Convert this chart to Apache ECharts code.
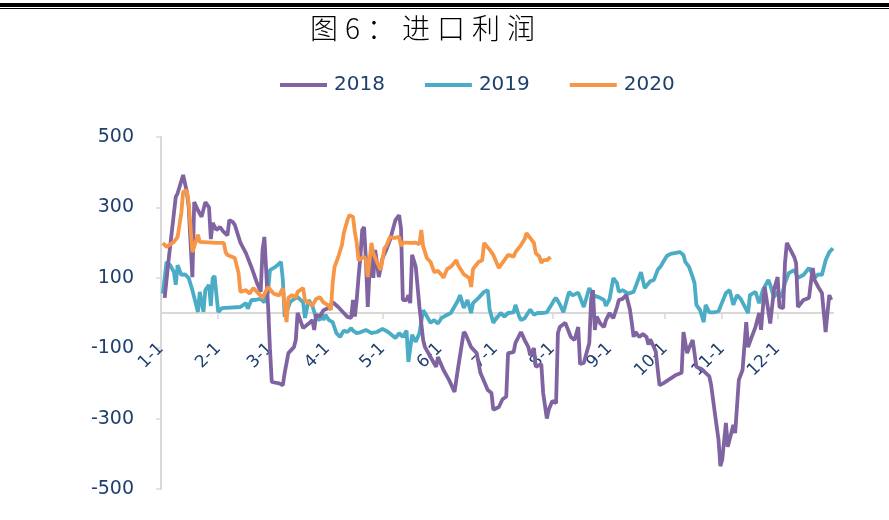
<!DOCTYPE html>
<html>
<head>
<meta charset="utf-8">
<script src="https://cdn.jsdelivr.net/npm/echarts@6/dist/echarts.min.js"></script>
<style>
html,body{margin:0;padding:0;background:#fff;}
#wrap{position:relative;width:889px;height:520px;}
#main{width:889px;height:520px;}
#title{position:absolute;left:0;top:11px;width:852px;text-align:center;font-family:'Noto Sans CJK SC',sans-serif;font-size:28px;font-weight:300;letter-spacing:7px;color:#000;line-height:32px;}
</style>
</head>
<body>
<div id="wrap">
<div id="main"></div>
<div id="title"></div>
</div>
<script>
// ---- data ----
const titleText = '图6：进口利润';
const seriesNames = ['2018', '2019', '2020'];
const monthLengths = [31, 28, 31, 30, 31, 30, 31, 31, 30, 31, 30, 31];
const yTicks = [-500, -300, -100, 100, 300, 500];

const days2018 = [2,4,8,9,12,14,15,17,18,20,22,24,26,27,28,30,32,34,36,37,39,40,43,46,49,52,54,55,56,58,59,60,64,66,67,69,72,73,74,77,80,82,83,84,86,88,91,92,93,96,99,101,103,104,105,106,107,108,109,110,111,112,113,114,115,116,118,120,122,124,127,129,130,131,133,134,135,136,138,140,142,143,146,149,150,153,156,159,161,164,165,168,171,173,177,179,180,183,185,187,188,191,192,195,197,199,200,202,203,206,207,209,210,212,214,215,216,219,222,224,226,227,229,232,233,234,235,236,238,240,241,243,245,247,248,250,252,253,254,255,256,257,259,261,263,264,265,267,268,270,272,279,282,283,285,286,288,290,293,297,298,300,302,303,304,306,307,310,311,313,315,317,318,320,322,324,325,327,330,332,334,335,337,338,339,341,343,344,345,348,351,353,354,356,358,360,361,362,363];
const vals2018 = [43,145,330,340,392,344,301,102,315,292,273,315,300,210,256,236,244,230,221,264,258,250,200,170,130,85,60,179,216,20,-100,-196,-200,-205,-170,-114,-97,-77,0,-43,-30,-20,-48,-5,-10,8,15,17,31,17,0,-11,-14,37,-10,37,102,159,236,244,150,17,122,170,100,179,102,156,179,207,264,278,240,37,37,51,28,165,131,17,-77,-97,-125,-153,-125,-162,-190,-224,-153,-54,-60,-97,-114,-170,-219,-227,-275,-267,-245,-238,-114,-111,-85,-54,-77,-97,-120,-100,-153,-145,-227,-300,-275,-250,-256,-57,-40,-28,-68,-77,-40,-145,-142,-85,40,65,-48,-10,-30,-40,-20,0,-15,17,37,40,51,48,10,-28,-68,-54,-68,-60,-68,-90,-75,-97,-110,-205,-200,-176,-170,-54,-114,-100,-77,-153,-160,-180,-205,-284,-361,-435,-417,-312,-380,-318,-341,-190,-162,-26,-97,-68,-40,0,-48,74,-30,65,102,17,14,142,199,179,159,142,17,37,43,128,94,74,57,-54,0,51,37];

const days2019 = [1,2,3,5,7,8,9,11,13,15,17,20,21,22,23,24,26,27,28,29,31,33,43,46,47,48,49,51,54,55,56,58,59,62,65,66,67,70,72,74,77,78,80,82,84,86,87,88,89,91,93,95,97,99,101,103,104,106,108,111,114,117,120,123,124,127,129,131,133,134,136,138,140,142,143,146,148,150,152,154,157,158,161,162,164,166,168,169,172,175,177,178,180,181,184,186,188,191,192,194,195,197,198,200,202,204,207,209,212,213,214,216,218,221,223,226,228,229,232,234,237,240,241,243,245,247,248,250,253,256,259,260,262,265,267,269,271,272,274,276,281,283,284,286,288,289,290,292,294,295,297,300,302,304,306,308,310,312,314,316,318,319,322,324,326,329,330,332,334,336,338,340,343,345,348,351,354,356,358,360,362,364];
const vals2019 = [55,100,145,136,116,80,136,108,110,99,65,3,60,30,3,65,80,20,99,105,3,14,17,28,12,25,37,37,40,43,30,60,122,131,145,94,-11,31,40,45,30,-14,37,20,-14,-20,0,-20,-5,-20,-26,-57,-68,-50,-54,-43,-50,-57,-55,-48,-57,-54,-45,-54,-57,-71,-57,-68,-50,-139,-62,-82,-57,8,0,-28,-20,-30,-14,-8,0,-5,37,51,14,37,0,28,43,60,65,10,-28,-20,0,-10,0,2,23,-10,-20,-15,-20,10,-5,0,0,2,28,37,43,25,2,60,50,58,31,17,71,50,45,37,20,40,99,85,60,65,55,60,102,116,71,90,94,122,135,145,162,168,173,165,145,131,102,85,23,8,-26,23,2,2,5,31,57,65,23,51,40,20,0,51,60,28,65,94,80,45,60,45,85,113,122,100,108,128,100,110,108,150,173,184];

const days2020 = [1,3,7,9,11,12,14,15,16,17,20,21,30,34,35,36,40,42,43,46,47,48,50,52,55,58,61,64,66,67,68,69,71,73,74,77,78,80,82,84,86,88,91,92,93,94,96,98,99,101,102,104,105,106,107,110,111,112,114,115,117,119,121,122,124,126,129,130,131,133,135,138,140,141,142,144,146,148,150,152,153,155,157,160,161,164,167,168,169,172,174,175,178,180,181,183,186,188,191,192,195,197,198,199,202,203,205,206,207,209,211];
const vals2020 = [199,188,202,216,284,344,349,312,244,173,222,202,199,199,173,165,156,114,60,65,60,55,71,60,43,74,55,50,71,20,-26,43,51,43,60,71,35,30,20,40,45,30,20,8,85,131,159,193,227,264,278,273,230,200,150,160,150,102,199,170,145,122,184,190,216,213,216,190,200,200,199,200,195,236,190,156,145,116,120,108,100,125,131,150,135,110,99,74,125,145,150,199,180,165,160,128,150,165,160,173,193,210,227,220,199,170,160,142,150,150,159];

const colors = ['#8064A2', '#4BACC6', '#F79646'];

// ---- build ----
document.getElementById('title').textContent = titleText;
const categories = [];
monthLengths.forEach((len, m) => {
  for (let d = 1; d <= len; d++) categories.push((m + 1) + '-' + d);
});
function pairs(days, vals) { return days.map((d, i) => [d, vals[i]]); }
const isMonthStart = (idx, val) => /-1$/.test(val);

const gridTop = 137, gridBottom = 31, chartH = 520;
const yMin = -500, yMax = 500;
const plotH = chartH - gridTop - gridBottom;
const zeroOffset = -plotH * (0 - yMin) / (yMax - yMin);

const chart = echarts.init(document.getElementById('main'));
const navy = '#1F3F6E';
const labelFont = 'DejaVu Sans';
chart.setOption({
  animation: false,
  color: colors,
  graphic: [
    { type: 'rect', shape: { x: 0, y: 3, width: 889, height: 4 }, style: { fill: '#000' } },
    { type: 'rect', shape: { x: 0, y: 8, width: 889, height: 1 }, style: { fill: '#000' } }
  ],
  legend: {
    top: 70,
    left: 275,
    itemWidth: 47,
    itemHeight: 4,
    itemGap: 40,
    icon: 'rect',
    textStyle: { fontFamily: labelFont, fontSize: 20, color: navy, padding: [0, 0, 0, 2] },
    data: seriesNames
  },
  grid: { left: 161, right: 56, top: gridTop, bottom: gridBottom, containLabel: false, outerBoundsMode: 'none' },
  xAxis: {
    type: 'category',
    data: categories,
    boundaryGap: false,
    offset: zeroOffset,
    axisLine: { onZero: false, lineStyle: { color: '#D9D9D9', width: 2 } },
    axisTick: { show: true, interval: isMonthStart, length: 6, lineStyle: { color: '#D9D9D9', width: 1.5 } },
    axisLabel: {
      interval: isMonthStart,
      rotate: 45,
      margin: 33,
      fontFamily: labelFont,
      fontSize: 17,
      color: navy
    },
    splitLine: { show: false }
  },
  yAxis: {
    type: 'value',
    min: yMin,
    max: yMax,
    interval: 200,
    axisLine: { show: true, lineStyle: { color: '#D9D9D9', width: 2 } },
    axisTick: { show: true, length: 5, lineStyle: { color: '#D9D9D9', width: 1.5 } },
    axisLabel: {
      margin: 27,
      fontFamily: labelFont,
      fontSize: 19,
      color: navy,
      formatter: v => (yTicks.indexOf(v) >= 0 ? String(v) : '')
    },
    splitLine: { show: false }
  },
  series: [
    { name: seriesNames[0], type: 'line', data: pairs(days2018, vals2018), showSymbol: false, symbol: 'none', lineStyle: { width: 3.8 }, z: 3 },
    { name: seriesNames[1], type: 'line', data: pairs(days2019, vals2019), showSymbol: false, symbol: 'none', lineStyle: { width: 3.8 }, z: 2 },
    { name: seriesNames[2], type: 'line', data: pairs(days2020, vals2020), showSymbol: false, symbol: 'none', lineStyle: { width: 3.8 }, z: 4 }
  ]
});
</script>
</body>
</html>
